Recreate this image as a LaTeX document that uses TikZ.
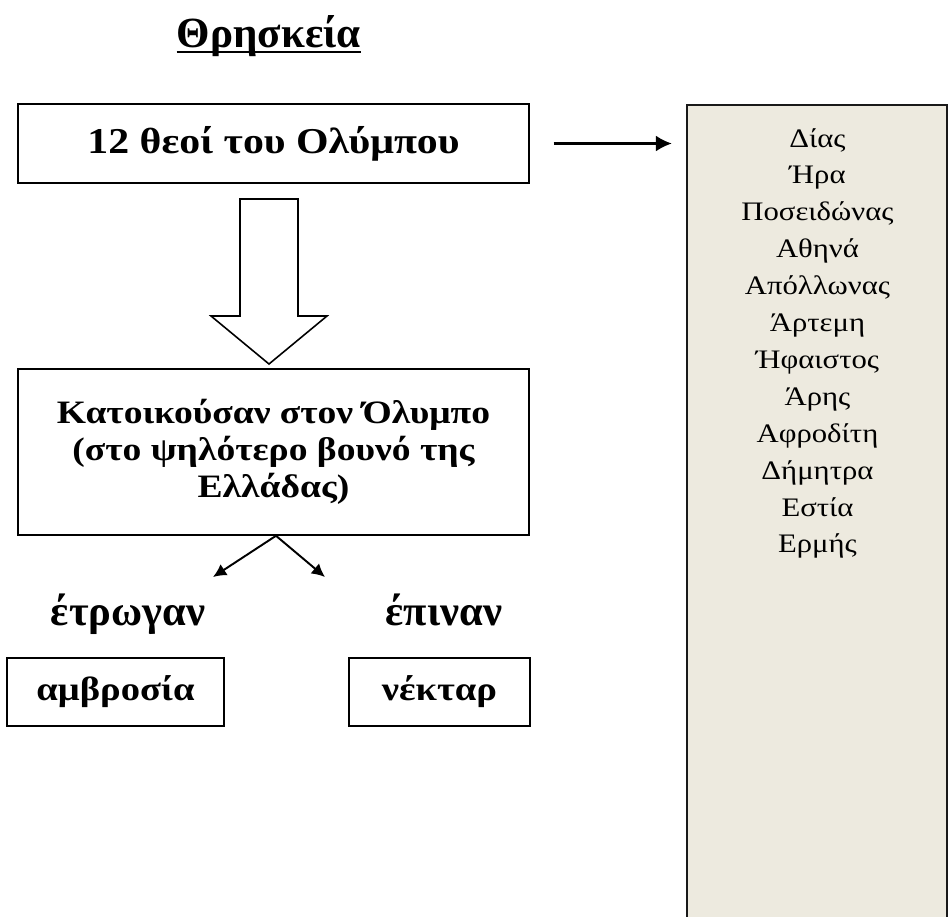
\documentclass[tikz,border=0pt]{standalone}
\usepackage{fontspec}
\setmainfont{Liberation Serif}
\newfontfamily\palafont[FakeStretch=1.15]{Liberation Serif}
\usepackage{xcolor}
\usetikzlibrary{arrows.meta,calc,positioning}
\definecolor{godsbg}{RGB}{237,234,223}

\begin{document}
\begin{tikzpicture}[x=0.02cm,y=-0.02cm,
	box/.style={draw,line width=0.9pt,inner sep=0pt},
	bigtip/.style={-{Latex[length=9pt,width=9pt]},line width=1.2pt},
	smalltip/.style={-{Latex[length=7.5pt,width=7.5pt]},line width=1.1pt},
	godname/.style={anchor=base,font=\palafont\fontsize{15.2}{18}\selectfont}]
	\useasboundingbox (0,0) rectangle (951,917);
	\node[anchor=base,inner sep=0pt,font=\bfseries\fontsize{24.5}{28}\selectfont] (title) at (269,47) {Θρησκεία};
	\draw[line width=1.3pt] ($(title.base west)+(0,5)$) -- ($(title.base east)+(0,5)$);
	\node[box,minimum width=10.22cm,minimum height=1.58cm,font=\palafont\bfseries\fontsize{20.7}{24}\selectfont] (olympians) at (273.5,143.5) {12 θεοί του Ολύμπου};
	\node[draw=black!90,line width=1.4pt,fill=godsbg,minimum width=5.2cm,minimum height=17cm,anchor=north,inner sep=0pt] (gods) at (817,104) {};
	\draw[bigtip] ($(olympians.east)+(24,0)$) -- ($(gods.west |- olympians.east)+(-14,0)$);
	% the twelve gods
	\foreach \god [count=\i] in {Δίας,Ήρα,Ποσειδώνας,Αθηνά,Απόλλωνας,Άρτεμη,Ήφαιστος,Άρης,Αφροδίτη,Δήμητρα,Εστία,Ερμής}
		\node[godname] (g\i) at (817.5,{147+36.9*(\i-1)}) {\god};
	% block arrow
	\draw[line width=0.9pt] (240,199) -- (298,199) -- (298,316) -- (327,316) -- (269,364) -- (211,316) -- (240,316) -- cycle;
	\node[box,minimum width=10.22cm,minimum height=3.32cm,align=center,font=\palafont\bfseries\fontsize{18.6}{21}\selectfont] (home) at (273.5,452) {Κατοικούσαν στον Όλυμπο\\(στο ψηλότερο βουνό της\\Ελλάδας)};
	\coordinate (eatend) at (213,577);
	\coordinate (drinkend) at (325,577);
	\draw[smalltip] ($(home.south)+(2.5,0)$) -- (eatend);
	\draw[smalltip] ($(home.south)+(2.5,0)$) -- (drinkend);
	\node[anchor=base,font=\bfseries\fontsize{24.2}{28}\selectfont] (eat) at (128,625) {έτρωγαν};
	\node[anchor=base,font=\bfseries\fontsize{24.2}{28}\selectfont] (drink) at (444,625) {έπιναν};
	\node[box,minimum width=4.34cm,minimum height=1.36cm,font=\palafont\bfseries\fontsize{19.1}{22}\selectfont] (ambrosia) at (115.5,692) {αμβροσία};
	\node[box,minimum width=3.62cm,minimum height=1.36cm,font=\palafont\bfseries\fontsize{19.1}{22}\selectfont] (nectar) at (439.5,692) {νέκταρ};
\end{tikzpicture}
\end{document}
